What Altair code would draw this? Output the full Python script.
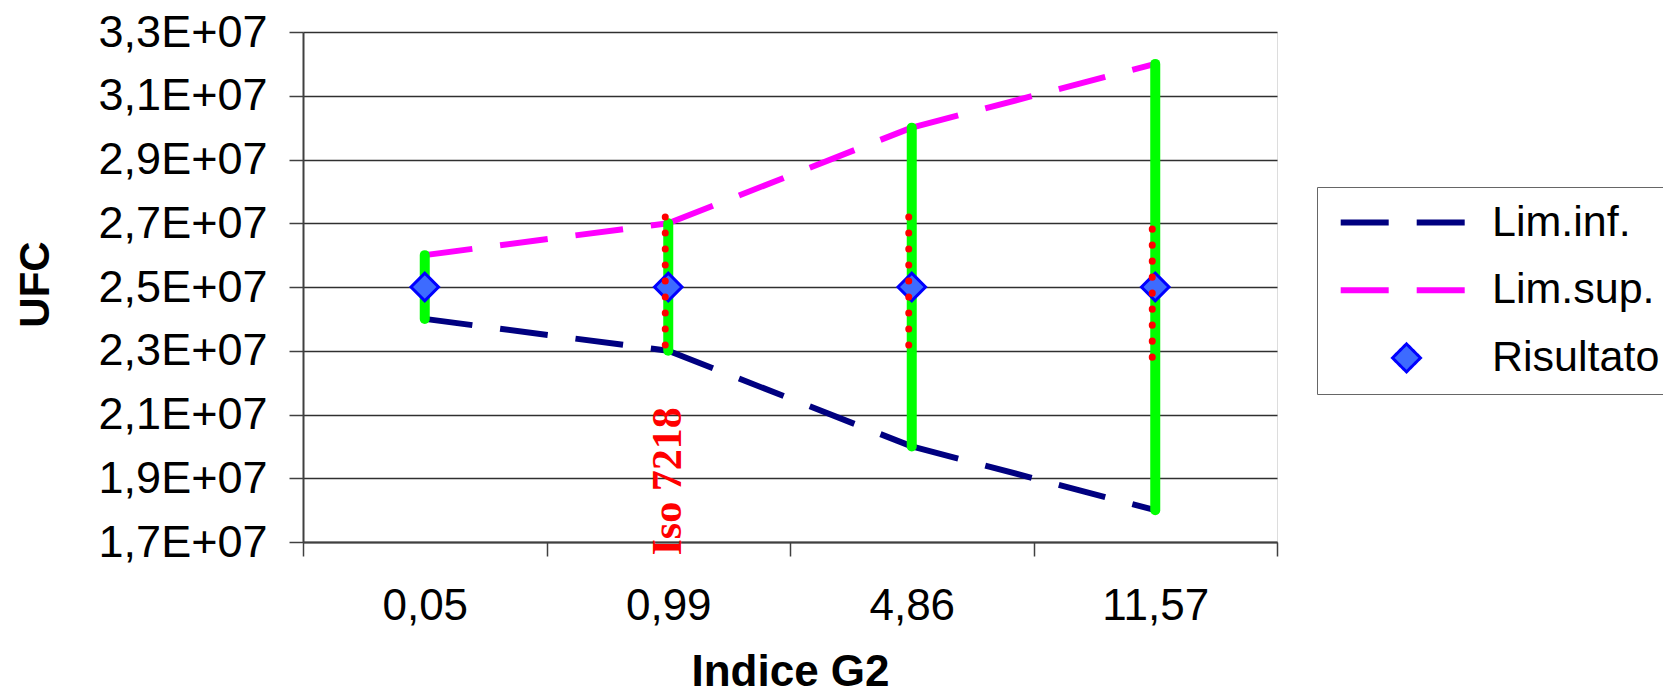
import altair as alt
import pandas as pd

# ---- data ----
CATS = ["0,05", "0,99", "4,86", "11,57"]
LIM_INF = [2.4e7, 2.3e7, 2.0e7, 1.8e7]
LIM_SUP = [2.6e7, 2.7e7, 3.0e7, 3.2e7]
RISULTATO = [2.5e7, 2.5e7, 2.5e7, 2.5e7]
# dotted red ISO 7218 interval (start -> end, as drawn)
ISO_CATS = ["0,99", "4,86", "11,57"]
ISO_START = [2.72e7, 2.72e7, 2.28e7]
ISO_END = [2.28e7, 2.28e7, 2.72e7]
ISO_LABEL = "Iso 7218"
ISO_LABEL_CAT = "0,99"
ISO_LABEL_Y = 1.89e7
Y_TICKS = [1.7e7, 1.9e7, 2.1e7, 2.3e7, 2.5e7, 2.7e7, 2.9e7, 3.1e7, 3.3e7]
SERIES = ["Lim.inf.", "Lim.sup.", "Risultato"]

# ---- tables ----
seg_rows = []
for name, vals in [("Lim.inf.", LIM_INF), ("Lim.sup.", LIM_SUP)]:
    for i in range(len(CATS) - 1):
        for k in (0, 1):
            seg_rows.append({"series": name, "seg": i, "pt": k,
                             "cat": CATS[i + k], "v": vals[i + k]})
lines_df = pd.DataFrame(seg_rows)
range_df = pd.DataFrame({"cat": CATS, "v": LIM_INF, "v2": LIM_SUP})
res_df = pd.DataFrame({"series": "Risultato", "cat": CATS, "v": RISULTATO})
iso_df = pd.DataFrame({"cat": ISO_CATS, "v": ISO_START, "v2": ISO_END})
lab_df = pd.DataFrame({"cat": [ISO_LABEL_CAT], "v": [ISO_LABEL_Y], "t": [ISO_LABEL]})

FONT = "Liberation Sans"
LINE_PATH = "M-4.7,0L4.7,0"

xscale = alt.Scale(domain=CATS, paddingInner=0, paddingOuter=0)
yscale = alt.Scale(domain=[1.7e7, 3.3e7], nice=False, zero=False)
stroke_scale = alt.Scale(domain=SERIES, range=["#000080", "#FF00FF", "#0000FF"])
fill_scale = alt.Scale(domain=SERIES, range=["transparent", "transparent", "#3D6BFF"])
shape_scale = alt.Scale(domain=SERIES, range=[LINE_PATH, LINE_PATH, "diamond"])
dash_scale = alt.Scale(domain=SERIES, range=[[48, 28], [48, 28], [1, 0]])
sw_scale = alt.Scale(type="ordinal", domain=SERIES, range=[6, 6, 3])

LEG = alt.Legend(
    title=None, orient="none", legendX=1014, legendY=155,
    labelFont=FONT, labelFontSize=43, labelColor="#000000", labelLimit=0,
    symbolSize=784, symbolOffset=54, labelOffset=64,
    padding=14, rowPadding=23.7, strokeColor="#666666", symbolOpacity=1,
)

xaxis = alt.Axis(
    title="Indice G2", titleFont=FONT, titleFontSize=44, titleFontWeight="bold",
    titleY=143, titleBaseline="alphabetic", titleColor="#000000",
    labelAngle=0, labelFont=FONT, labelFontSize=44, labelColor="#000000",
    labelPadding=28, tickBand="extent", tickSize=14, tickColor="#404040",
    tickWidth=1.5, domainColor="#404040", domainWidth=2, grid=False,
)
yaxis = alt.Axis(
    title="UFC", titleFont=FONT, titleFontSize=42, titleFontWeight="bold",
    titleX=-268, titleY=252, titleBaseline="middle", titleAngle=270,
    titleColor="#000000",
    values=Y_TICKS,
    labelExpr="replace(replace(format(datum.value, '.1e'), '.', ','), 'e+7', 'E+07')",
    labelFont=FONT, labelFontSize=45, labelColor="#000000", labelPadding=22,
    tickSize=14, tickColor="#404040", tickWidth=1.5,
    domainColor="#404040", domainWidth=2,
    grid=True, gridColor="#303030", gridWidth=1.3,
)

lines = alt.Chart(lines_df).mark_line(strokeCap="butt").encode(
    x=alt.X("cat:N", scale=xscale, axis=xaxis, sort=CATS),
    y=alt.Y("v:Q", scale=yscale, axis=yaxis),
    stroke=alt.Stroke("series:N", scale=stroke_scale, legend=LEG),
    strokeDash=alt.StrokeDash("series:N", scale=dash_scale, legend=LEG),
    strokeWidth=alt.StrokeWidth("series:N", scale=sw_scale, legend=LEG),
    detail="seg:N",
    order="pt:Q",
)

green = alt.Chart(range_df).mark_rule(
    strokeWidth=10, strokeCap="round", color="#00FF00"
).encode(
    x=alt.X("cat:N", scale=xscale, sort=CATS),
    y=alt.Y("v:Q", scale=yscale),
    y2="v2:Q",
)

points = alt.Chart(res_df).mark_point(filled=True, size=760, opacity=1).encode(
    x=alt.X("cat:N", scale=xscale, sort=CATS),
    y=alt.Y("v:Q", scale=yscale),
    stroke=alt.Stroke("series:N", scale=stroke_scale, legend=LEG),
    fill=alt.Fill("series:N", scale=fill_scale, legend=LEG),
    shape=alt.Shape("series:N", scale=shape_scale, legend=LEG),
    strokeWidth=alt.StrokeWidth("series:N", scale=sw_scale, legend=LEG),
)

dots = alt.Chart(iso_df).mark_rule(
    strokeWidth=7, strokeCap="round", strokeDash=[0.1, 15.9],
    color="#FF0000", xOffset=-3,
).encode(
    x=alt.X("cat:N", scale=xscale, sort=CATS),
    y=alt.Y("v:Q", scale=yscale),
    y2="v2:Q",
)

label = alt.Chart(lab_df).mark_text(
    angle=270, font="Liberation Serif", fontSize=42, fontWeight="bold",
    color="#FF0000", align="center", baseline="middle",
).encode(
    x=alt.X("cat:N", scale=xscale, sort=CATS),
    y=alt.Y("v:Q", scale=yscale),
    text="t:N",
)

chart = alt.layer(lines, green, points, dots, label).properties(
    width=974, height=510,
    autosize=alt.AutoSizeParams(type="none"),
    padding={"left": 295, "top": 24, "right": 386, "bottom": 144},
).configure_view(
    stroke="#808080", strokeWidth=2
).configure(
    font=FONT, background="#FFFFFF"
)

chart.save("out.html", embed_options={"renderer": "svg", "actions": False})
